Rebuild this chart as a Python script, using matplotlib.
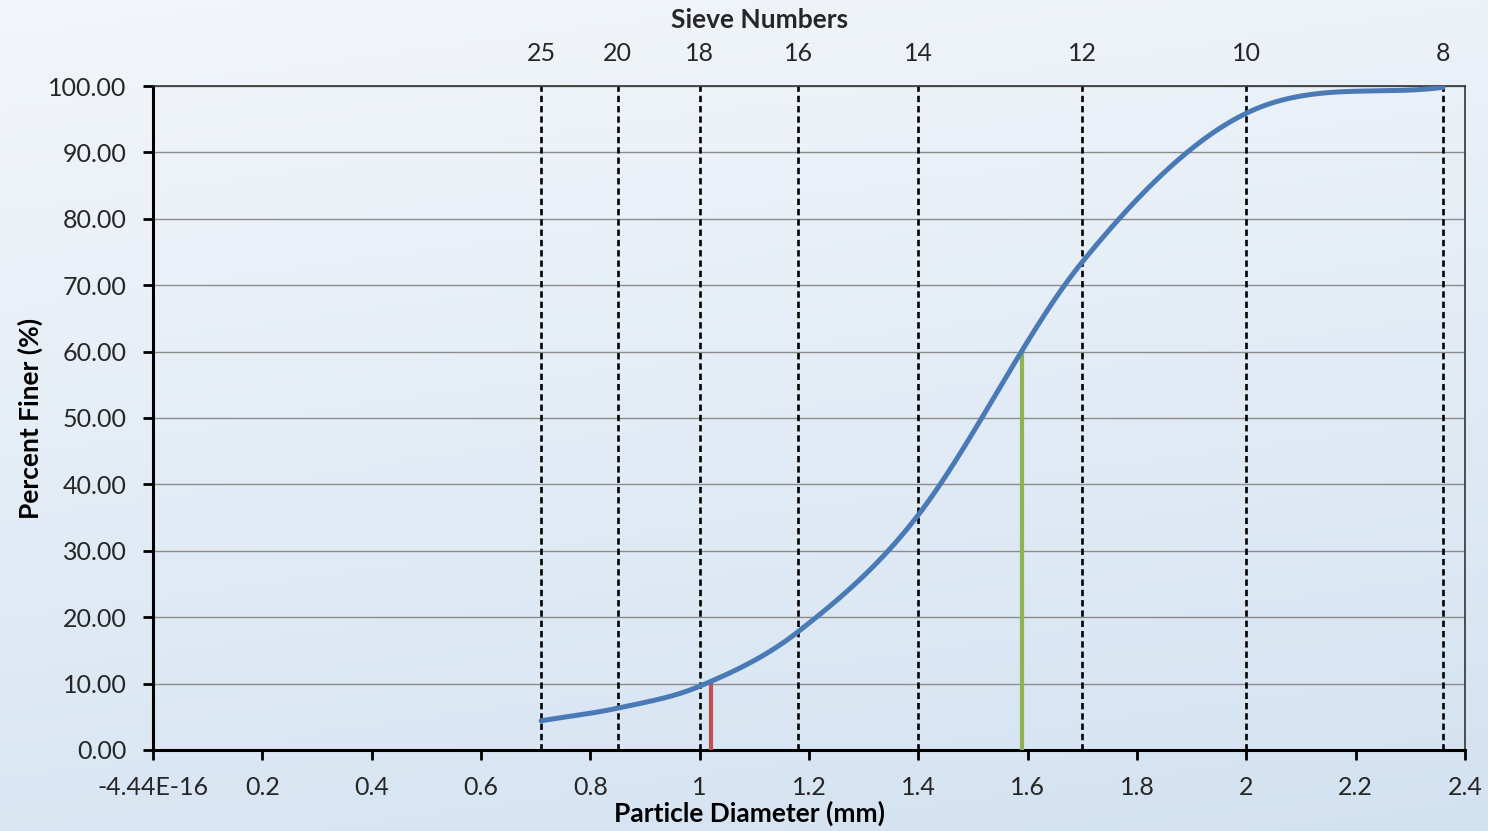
import numpy as np
import matplotlib.pyplot as plt
from matplotlib.colors import LinearSegmentedColormap

plt.rcParams['font.family'] = ['Lato', 'DejaVu Sans']

# ------- Data -------
sieve_numbers = ['25', '20', '18', '16', '14', '12', '10', '8']
sieve_sizes = [0.71, 0.85, 1.0, 1.18, 1.4, 1.7, 2.0, 2.36]
percent_finer = [4.4, 6.3, 9.6, 17.8, 35.4, 73.5, 95.9, 99.8]
d10 = 1.02
d60 = 1.59
x_ticks = [0, 0.2, 0.4, 0.6, 0.8, 1.0, 1.2, 1.4, 1.6, 1.8, 2.0, 2.2, 2.4]
x_ticklabels = ['-4.44E-16', '0.2', '0.4', '0.6', '0.8', '1', '1.2', '1.4',
                '1.6', '1.8', '2', '2.2', '2.4']
y_ticks = [0, 10, 20, 30, 40, 50, 60, 70, 80, 90, 100]


# smooth line like Excel (cubic hermite with finite difference tangents)
def smooth_curve(x, y, n=40):
    x = np.asarray(x, float)
    y = np.asarray(y, float)
    m = np.zeros_like(y)
    m[0] = (y[1] - y[0]) / (x[1] - x[0])
    m[-1] = (y[-1] - y[-2]) / (x[-1] - x[-2])
    m[1:-1] = (y[2:] - y[:-2]) / (x[2:] - x[:-2])
    xs, ys = [], []
    for i in range(len(x) - 1):
        h = x[i + 1] - x[i]
        t = np.linspace(0, 1, n)
        h00 = 2 * t**3 - 3 * t**2 + 1
        h10 = t**3 - 2 * t**2 + t
        h01 = -2 * t**3 + 3 * t**2
        h11 = t**3 - t**2
        xs.append(x[i] + t * h)
        ys.append(h00 * y[i] + h10 * h * m[i] + h01 * y[i + 1] + h11 * h * m[i + 1])
    return np.concatenate(xs), np.concatenate(ys)


fig = plt.figure(figsize=(14.88, 8.31), dpi=100)

# background gradient (light top-left, blue bottom)
bg = fig.add_axes([0, 0, 1, 1], zorder=-10)
cmap = LinearSegmentedColormap.from_list('bg', ['#f3f6fa', '#d3e2f1'])
yy, xx = np.mgrid[0:1:200j, 0:1:200j]
grad = 0.8 * yy + 0.2 * xx
bg.imshow(grad, cmap=cmap, aspect='auto', extent=[0, 1, 0, 1], origin='upper')
bg.axis('off')

ax = fig.add_axes([0.1028, 0.0975, 0.8817, 0.799])
ax.patch.set_alpha(0)

ax.set_xlim(0, 2.4)
ax.set_ylim(0, 100)

for y in y_ticks[1:]:
    ax.axhline(y, color='#8c8c8c', lw=1.0, zorder=1)

for s in sieve_sizes:
    ax.axvline(s, color='black', lw=1.9, ls=(0, (2.4, 1.5)), zorder=2)

cx, cy = smooth_curve(sieve_sizes, percent_finer)
ax.plot(cx, cy, color='#4a7ab6', lw=3.6, zorder=4, solid_capstyle='round')

ax.plot([d10, d10], [0, 10], color='#c0504d', lw=3, zorder=3)
ax.plot([d60, d60], [0, 60], color='#8fb34e', lw=3, zorder=3)

ax.set_xticks(x_ticks)
ax.set_xticklabels(x_ticklabels)
ax.set_yticks(y_ticks)
ax.set_yticklabels([f'{v:.2f}' for v in y_ticks])
ax.tick_params(axis='both', labelsize=18, colors='black', width=2, length=7,
               labelcolor='#262626')
ax.tick_params(axis='x', pad=12)
ax.tick_params(axis='y', pad=12)

for side in ['left', 'bottom']:
    ax.spines[side].set_linewidth(2.2)
for side in ['top', 'right']:
    ax.spines[side].set_linewidth(1.2)
    ax.spines[side].set_color('#333333')

ax.set_xlabel('Particle Diameter (mm)', fontsize=19, fontweight='bold')
ax.xaxis.set_label_coords((750 - 153) / 1312, -(813 - 750) / 664)
ax.xaxis.label.set_va('center')
ax.set_ylabel('Percent Finer (%)', fontsize=19, fontweight='bold')
ax.yaxis.set_label_coords(-(153 - 30) / 1312, 0.5)
ax.yaxis.label.set_va('center')

top = ax.twiny()
top.set_xlim(ax.get_xlim())
top.set_xticks(sieve_sizes)
top.set_xticklabels(sieve_numbers)
top.tick_params(axis='x', length=0, labelsize=18, labelcolor='#262626', pad=15)
for sp in top.spines.values():
    sp.set_visible(False)

fig.text(760 / 1488, 1 - 20 / 831, 'Sieve Numbers', fontsize=19, fontweight='bold',
         ha='center', va='center', color='#262626')

fig.savefig('out.png', dpi=100)
